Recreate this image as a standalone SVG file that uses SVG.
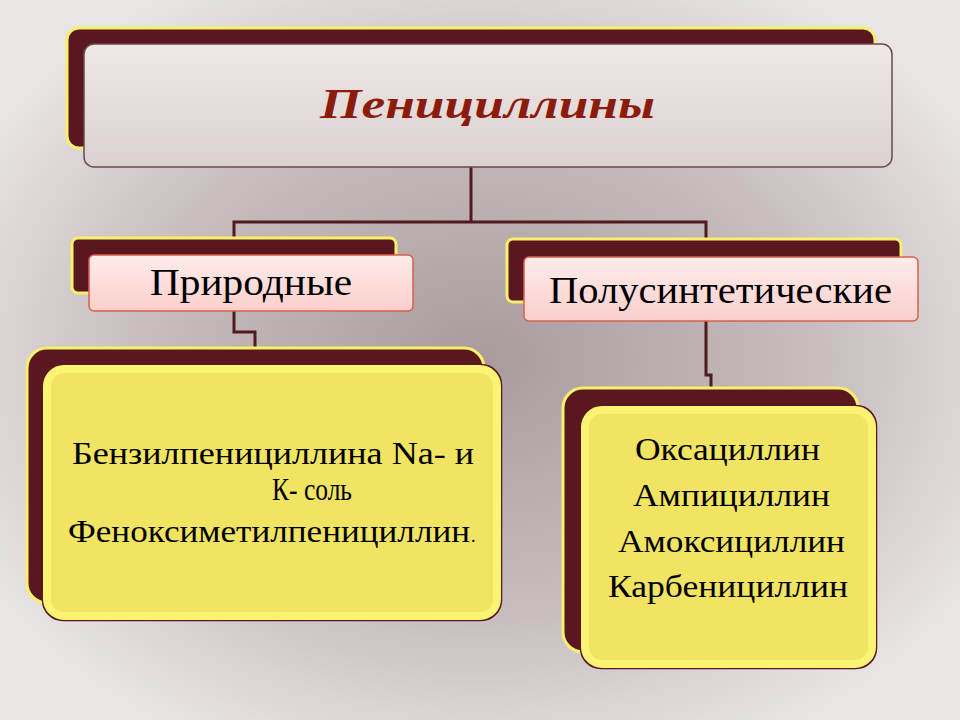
<svg xmlns="http://www.w3.org/2000/svg" width="960" height="720" viewBox="0 0 960 720">
<defs>
<radialGradient id="bg" cx="0.5" cy="0.5" r="0.6"><stop offset="0" stop-color="#a99b9c"/><stop offset="0.6" stop-color="#c8bebe"/><stop offset="1" stop-color="#e8e5e4"/></radialGradient>
<linearGradient id="top" x1="0" y1="0" x2="0" y2="1"><stop offset="0" stop-color="#f0e7e7"/><stop offset="1" stop-color="#dbd1d1"/></linearGradient>
<linearGradient id="pink" x1="0" y1="0" x2="0" y2="1"><stop offset="0" stop-color="#fdeceb"/><stop offset="1" stop-color="#fbcfcb"/></linearGradient>
</defs>
<style>
.back{fill:#5a1720;stroke:#f7f06a;stroke-width:3}
.ln{fill:none;stroke:#4f1a20;stroke-width:3}
.t{font-family:"Liberation Serif",serif;fill:#000}
.yel{fill:#f0e462;stroke:#5a1720;stroke-width:2.5}
.yin{fill:none;stroke:#fbf472;stroke-width:8}
</style>
<rect width="960" height="720" fill="url(#bg)"/>
<g id="connectors">
<path class="ln" d="M471 167V222M234 240V222H706V240M234 311V332H255V348M706 321V375H711V387"/>
</g>
<g id="root">
<rect class="back" x="67" y="28" width="808" height="120" rx="12"/>
<rect x="84" y="44" width="808" height="123" rx="10" fill="url(#top)" stroke="#6a4a4e" stroke-width="1.5"/>
<text x="320" y="118" textLength="335" lengthAdjust="spacingAndGlyphs" font-family="Liberation Serif,serif" font-weight="bold" font-style="italic" font-size="43" fill="#8b1c0c">Пенициллины</text>
</g>
<g id="natural">
<rect class="back" x="72" y="238" width="324" height="55" rx="6"/>
<rect x="89" y="255" width="324" height="56" rx="5" fill="url(#pink)" stroke="#d8604e" stroke-width="1.5"/>
<text class="t" x="150" y="295" textLength="202" lengthAdjust="spacingAndGlyphs" font-size="38">Природные</text>
</g>
<g id="semisynthetic">
<rect class="back" x="507" y="239" width="394" height="63" rx="6"/>
<rect x="524" y="257" width="394" height="64" rx="5" fill="url(#pink)" stroke="#d8604e" stroke-width="1.5"/>
<text class="t" x="549" y="303" textLength="343" lengthAdjust="spacingAndGlyphs" font-size="38">Полусинтетические</text>
</g>
<g id="natural-list">
<rect class="back" x="27" y="348" width="457" height="255" rx="20"/>
<rect class="yel" x="43" y="365" width="458" height="255" rx="20"/>
<rect class="yin" x="47" y="369" width="450" height="247" rx="17"/>
<text class="t" x="72" y="464" font-size="32" textLength="402" lengthAdjust="spacingAndGlyphs">Бензилпенициллина Na- и</text>
<text class="t" x="272" y="500" font-size="32" textLength="80" lengthAdjust="spacingAndGlyphs">К- соль</text>
<text class="t" x="68" y="542" font-size="32" textLength="402" lengthAdjust="spacingAndGlyphs">Феноксиметилпенициллин</text>
<text class="t" x="471" y="542" font-size="18">.</text>
</g>
<g id="semi-list">
<rect class="back" x="563" y="388" width="295" height="264" rx="20"/>
<rect class="yel" x="581" y="406" width="295" height="262" rx="20"/>
<rect class="yin" x="585" y="410" width="287" height="254" rx="17"/>
<text class="t" x="635" y="460" font-size="32" textLength="185" lengthAdjust="spacingAndGlyphs">Оксациллин</text>
<text class="t" x="633" y="506" font-size="32" textLength="197" lengthAdjust="spacingAndGlyphs">Ампициллин</text>
<text class="t" x="618" y="552" font-size="32" textLength="227" lengthAdjust="spacingAndGlyphs">Амоксициллин</text>
<text class="t" x="608" y="597" font-size="32" textLength="240" lengthAdjust="spacingAndGlyphs">Карбенициллин</text>
</g>
</svg>
